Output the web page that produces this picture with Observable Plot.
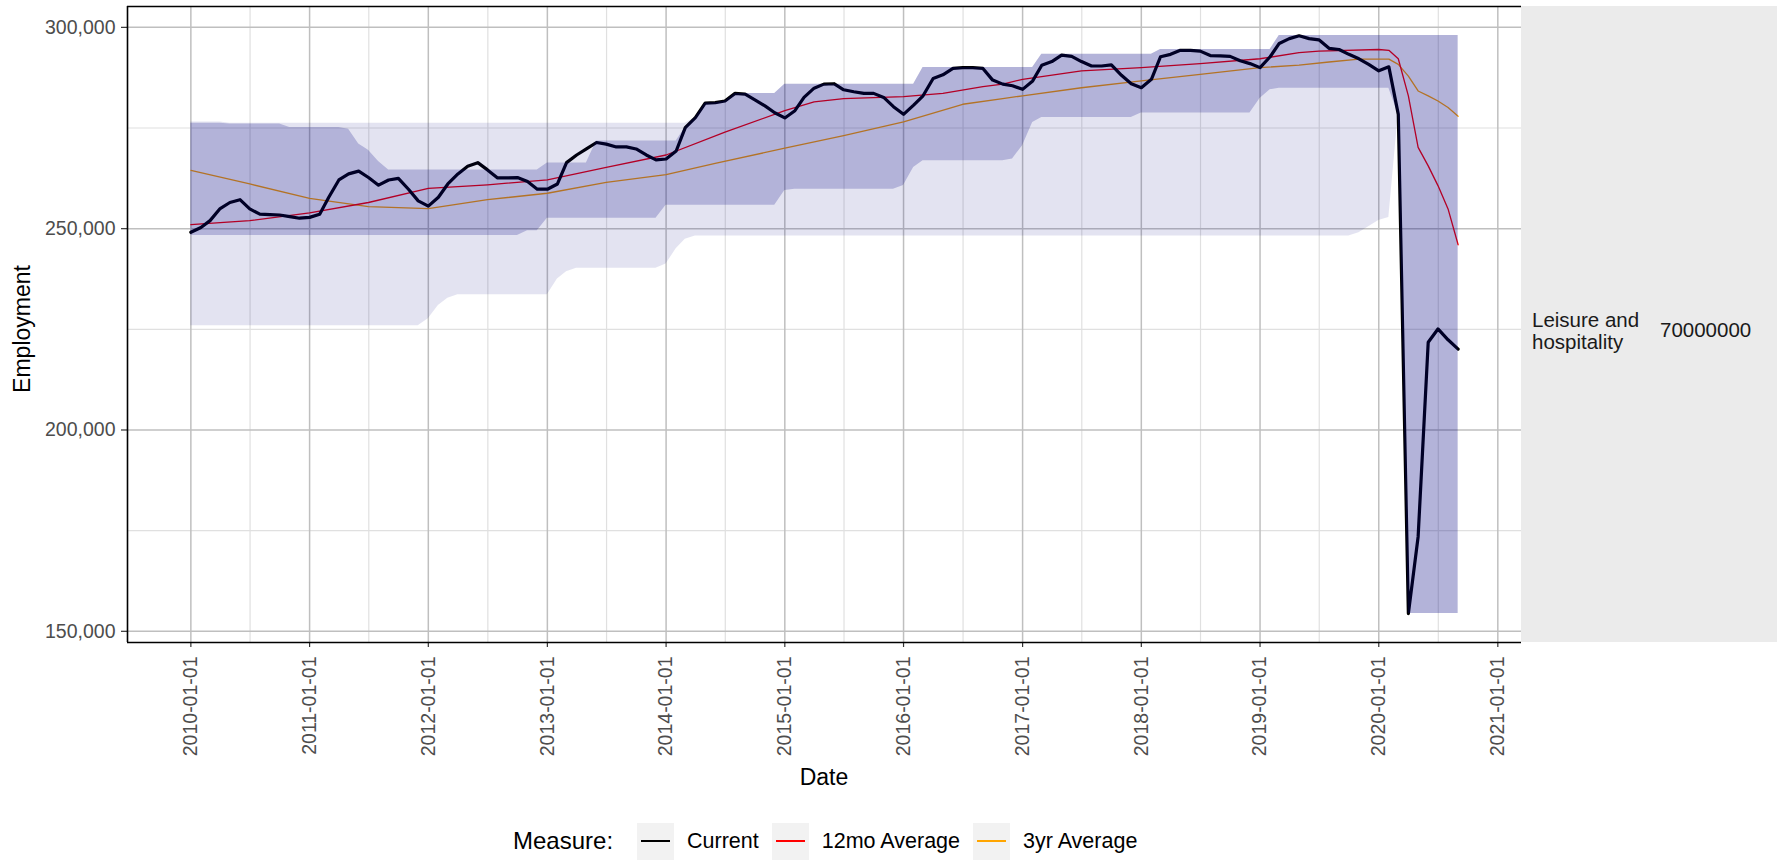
<!DOCTYPE html>
<html><head><meta charset="utf-8">
<script src="https://cdn.jsdelivr.net/npm/d3@7"></script>
<script src="https://cdn.jsdelivr.net/npm/@observablehq/plot@0.6"></script>
<style>
html,body{margin:0;padding:0;background:#fff;}
#wrap{position:relative;width:1777px;height:860px;overflow:hidden;font-family:"Liberation Sans",Arial,sans-serif;}
#legend{position:absolute;left:513px;top:822px;height:38px;display:flex;align-items:center;color:#000;}
#legend .title{font-size:24px;margin-right:24px;}
#legend .key{width:37px;height:37px;background:#f2f2f2;position:relative;margin-right:13px;}
#legend .key i{position:absolute;left:4px;right:4px;top:17.5px;height:2px;display:block;}
#legend .lab{font-size:21.5px;margin-right:13px;}
</style></head>
<body><div id="wrap"><div id="chart"></div><div id="legend"></div></div>
<script>
// ---- data (employment in thousands) ----
const startMonth = "2010-01-01", endMonth = "2020-10-01"; // monthly, 2010-01 .. 2020-09
const current = [
 249.1,250.3,252.0,255.0,256.5,257.2,254.9,253.6,253.5,253.4,253.0,252.6,
 252.8,253.6,257.8,262.1,263.6,264.3,262.7,260.8,262.1,262.5,259.8,256.9,
 255.6,257.8,261.1,263.6,265.5,266.4,264.6,262.6,262.6,262.7,261.7,259.8,
 259.8,261.1,266.4,268.3,269.8,271.4,271.0,270.3,270.3,269.8,268.3,267.1,
 267.3,269.3,275.1,277.6,281.2,281.3,281.7,283.6,283.4,282.0,280.5,278.8,
 277.5,279.3,282.6,284.9,285.9,286.0,284.5,284.0,283.6,283.6,282.6,280.3,
 278.4,280.7,283.0,287.3,288.2,289.8,290.0,290.0,289.8,286.9,285.9,285.5,
 284.6,286.7,290.6,291.5,293.1,292.8,291.5,290.4,290.4,290.7,288.1,286.0,
 285.0,287.1,292.7,293.3,294.3,294.3,294.1,293.0,292.9,292.8,291.7,291.0,
 290.0,292.7,296.0,297.2,297.9,297.2,296.9,294.8,294.5,293.3,292.2,290.8,
 289.2,290.2,278.4,154.4,173.5,221.8,225.1,222.4,220.1
];
// 12-month range band (dark)
const range12Low = [
 248.3,248.3,248.3,248.3,248.3,248.3,248.3,248.3,248.3,248.3,248.3,248.3,
 248.3,248.3,248.3,248.3,248.3,248.3,248.3,248.3,248.3,248.3,248.3,248.3,
 248.3,248.3,248.3,248.3,248.3,248.3,248.3,248.3,248.3,248.3,249.5,249.5,
 252.6,252.6,252.6,252.6,252.6,252.6,252.6,252.6,252.6,252.6,252.6,252.6,
 255.8,255.8,255.8,255.8,255.8,255.8,255.8,255.8,255.8,255.8,255.8,255.8,
 259.5,259.8,259.8,259.8,259.8,259.8,259.8,259.8,259.8,259.8,259.8,259.8,
 260.7,265.2,266.9,266.9,266.9,266.9,266.9,266.9,266.9,266.9,266.9,267.3,
 270.6,276.4,277.6,277.6,277.6,277.6,277.6,277.6,277.6,277.6,277.6,277.6,
 278.7,278.7,278.7,278.7,278.7,278.7,278.7,278.7,278.7,278.7,278.7,278.7,
 282.3,284.5,284.9,284.9,284.9,284.9,284.9,284.9,284.9,284.9,284.9,284.9,
 284.9,284.9,278.4,154.4,154.4,154.4,154.4,154.4,154.4
];
const range12High = [
 276.2,276.2,276.2,276.2,276.0,276.0,276.0,276.0,276.0,276.0,275.1,275.1,
 275.1,275.1,275.1,275.1,274.7,271.0,269.5,266.7,264.6,264.6,264.6,264.6,
 264.6,264.6,264.6,264.6,264.6,264.6,264.6,264.6,264.6,264.6,264.6,264.6,
 266.3,266.3,266.3,266.3,266.3,271.8,271.8,271.8,271.8,271.8,271.8,271.8,
 271.8,271.8,275.1,277.6,281.2,281.3,281.7,283.6,283.6,283.6,283.6,283.6,
 285.9,285.9,285.9,285.9,285.9,285.9,285.9,285.9,285.9,285.9,285.9,285.9,
 285.9,285.9,290.0,290.0,290.0,290.0,290.0,290.0,290.0,290.0,290.0,290.0,
 290.0,290.0,293.3,293.3,293.3,293.3,293.3,293.3,293.3,293.3,293.3,293.3,
 293.3,293.3,294.5,294.5,294.5,294.5,294.5,294.5,294.5,294.5,294.5,294.5,
 294.5,294.5,298.0,298.0,298.0,298.0,298.0,298.0,298.0,298.0,298.0,298.0,
 298.0,298.0,298.0,298.0,298.0,298.0,298.0,298.0,298.0
];
// 3-year range band (light)
const range36Low = [
 225.9,225.9,225.9,225.9,225.9,225.9,225.9,225.9,225.9,225.9,225.9,225.9,
 225.9,225.9,225.9,225.9,225.9,225.9,225.9,225.9,225.9,225.9,225.9,225.9,
 227.6,230.9,232.7,233.6,233.6,233.6,233.6,233.6,233.6,233.6,233.6,233.6,
 233.6,237.5,239.3,240.2,240.2,240.2,240.2,240.2,240.2,240.2,240.2,240.2,
 241.2,245.0,247.4,248.2,248.2,248.2,248.2,248.2,248.2,248.2,248.2,248.2,
 248.2,248.2,248.2,248.2,248.2,248.2,248.2,248.2,248.2,248.2,248.2,248.2,
 248.2,248.2,248.2,248.2,248.2,248.2,248.2,248.2,248.2,248.2,248.2,248.2,
 248.2,248.2,248.2,248.2,248.2,248.2,248.2,248.2,248.2,248.2,248.2,248.2,
 248.2,248.2,248.2,248.2,248.2,248.2,248.2,248.2,248.2,248.2,248.2,248.2,
 248.2,248.2,248.2,248.2,248.2,248.2,248.2,248.2,248.2,248.2,249.0,250.5,
 252.0,252.8,278.4,154.4,154.4,154.4,154.4,154.4,154.4
];
const range36High = [
 276.5,276.5,276.5,276.5,276.2,276.2,276.2,276.2,276.2,276.2,276.2,276.2,
 276.2,276.2,276.2,276.2,276.2,276.2,276.2,276.2,276.2,276.2,276.2,276.2,
 276.2,276.2,276.2,276.2,276.2,276.2,276.2,276.2,276.2,276.2,276.2,276.2,
 276.2,276.2,276.2,276.2,276.2,276.2,276.2,276.2,276.2,276.2,276.2,276.2,
 276.2,276.2,276.2,277.6,281.2,281.3,281.7,283.6,283.6,283.6,283.6,283.6,
 285.9,285.9,285.9,285.9,285.9,285.9,285.9,285.9,285.9,285.9,285.9,285.9,
 285.9,285.9,290.0,290.0,290.0,290.0,290.0,290.0,290.0,290.0,290.0,290.0,
 290.0,290.0,293.3,293.3,293.3,293.3,293.3,293.3,293.3,293.3,293.3,293.3,
 293.3,293.3,294.5,294.5,294.5,294.5,294.5,294.5,294.5,294.5,294.5,294.5,
 294.5,294.5,298.0,298.0,298.0,298.0,298.0,298.0,298.0,298.0,298.0,298.0,
 298.0,298.0,298.0,298.0,298.0,298.0,298.0,298.0,298.0
];
// 12-month average (read at sample dates)
const avg12Dates = ["2010-01-01","2010-07-01","2011-01-01","2011-07-01","2012-01-01","2012-07-01","2013-01-01","2013-07-01","2014-01-01","2014-07-01","2015-01-01","2015-04-01","2015-07-01","2016-01-01","2016-05-01","2016-09-01","2016-11-01","2017-01-01","2017-07-01","2018-01-01","2018-07-01","2019-01-01","2019-05-01","2019-07-01","2020-01-01","2020-02-01","2020-03-01","2020-04-01","2020-05-01","2020-06-01","2020-07-01","2020-08-01","2020-09-01"];
const avg12Values = [251.0,252.0,253.9,256.5,260.0,260.9,262.1,265.2,268.3,274.0,279.3,281.5,282.3,282.8,283.6,285.3,285.9,287.1,289.2,290.0,291.0,292.2,293.7,294.1,294.5,294.3,292.2,283.0,270.2,265.6,260.7,254.9,246.0];
// 3-year average (read at sample dates)
const avg36Dates = ["2010-01-01","2010-07-01","2011-01-01","2011-07-01","2012-01-01","2012-07-01","2013-01-01","2013-07-01","2014-01-01","2014-06-01","2015-01-01","2015-07-01","2016-01-01","2016-07-01","2016-11-01","2017-01-01","2017-07-01","2018-01-01","2018-07-01","2019-01-01","2019-05-01","2019-08-01","2019-11-01","2020-02-01","2020-03-01","2020-04-01","2020-05-01","2020-06-01","2020-07-01","2020-08-01","2020-09-01"];
const avg36Values = [264.5,261.1,257.5,255.5,255.0,257.2,258.8,261.5,263.4,266.2,270.0,273.1,276.5,280.9,282.3,283.0,285.0,286.7,288.3,290.0,290.6,291.4,292.1,292.1,290.8,287.9,284.2,283.0,281.7,280.1,277.9];

const yTicks = [150, 200, 250, 300];
const yMinor = [175, 225, 275];
const xTickYears = ["2010-01-01","2011-01-01","2012-01-01","2013-01-01","2014-01-01","2015-01-01","2016-01-01","2017-01-01","2018-01-01","2019-01-01","2020-01-01","2021-01-01"];
const xMinor = ["2010-07-02","2011-07-02","2012-07-02","2013-07-02","2014-07-02","2015-07-02","2016-07-02","2017-07-02","2018-07-02","2019-07-02","2020-07-02"];
const measures = ["Current", "12mo Average", "3yr Average"];
const measureColors = ["#000000", "#ff0000", "#ffa500"];
const stripLabels = [["Leisure and", "hospitality"], ["70000000"]];

// ---- build tables ----
const parse = s => new Date(s + "T00:00:00Z");
const months = d3.utcMonth.range(parse(startMonth), parse(endMonth));
const rows = months.map((d, i) => ({date: d, cur: current[i], dlo: range12Low[i], dhi: range12High[i], llo: range36Low[i], lhi: range36High[i]}));
const avg12 = avg12Dates.map((d, i) => ({date: parse(d), v: avg12Values[i]}));
const avg36 = avg36Dates.map((d, i) => ({date: parse(d), v: avg36Values[i]}));
const xTicks = xTickYears.map(parse);
const xMin = xMinor.map(parse);

// ggplot-like 5% expansion
const d0 = months[0], d1 = months[months.length - 1];
const span = d1 - d0;
const xDomain = [new Date(+d0 - 0.05 * span), new Date(+d1 + 0.05 * span)];
const yLo = d3.min(current), yHi = d3.max(range12High);
const yDomain = [yLo - 0.05 * (yHi - yLo), yHi + 0.05 * (yHi - yLo)];

const W = 1777, H = 818, ML = 127, MR = 256, MT = 6, MB = 176;
const chart = Plot.plot({
  width: W, height: H,
  marginLeft: ML, marginRight: MR, marginTop: MT, marginBottom: MB,
  style: {fontFamily: "Liberation Sans, Arial, sans-serif", fontSize: "19.5px", color: "#4d4d4d", background: "white", overflow: "visible"},
  x: {type: "utc", domain: xDomain},
  y: {domain: yDomain},
  marks: [
    Plot.ruleX(xMin, {stroke: "#e0e0e0", strokeWidth: 1.2}),
    Plot.ruleY(yMinor, {stroke: "#e0e0e0", strokeWidth: 1.2}),
    Plot.ruleX(xTicks, {stroke: "#bfbfbf", strokeWidth: 1.5}),
    Plot.ruleY(yTicks, {stroke: "#bfbfbf", strokeWidth: 1.5}),
    Plot.line(avg36, {x: "date", y: "v", stroke: measureColors[2], strokeWidth: 1.3}),
    Plot.line(avg12, {x: "date", y: "v", stroke: measureColors[1], strokeWidth: 1.3}),
    Plot.line(rows, {x: "date", y: "cur", stroke: measureColors[0], strokeWidth: 3.2, strokeLinejoin: "round"}),
    Plot.areaY(rows, {x: "date", y1: "llo", y2: "lhi", fill: "#000080", fillOpacity: 0.11}),
    Plot.areaY(rows, {x: "date", y1: "dlo", y2: "dhi", fill: "#000080", fillOpacity: 0.21}),
    Plot.axisX({ticks: xTicks, tickFormat: d3.utcFormat("%Y-%m-%d"), tickRotate: -90, tickSize: 5, tickPadding: 9, label: null, stroke: "#333", strokeWidth: 1.2}),
    Plot.axisY({ticks: yTicks, tickFormat: d => d3.format(",")(d * 1000), tickSize: 6, tickPadding: 6, label: null, stroke: "#333", strokeWidth: 1.2}),
    Plot.ruleX([xDomain[0]], {stroke: "#000", strokeWidth: 1.6}),
    Plot.ruleY([yDomain[0]], {stroke: "#000", strokeWidth: 1.6}),
    Plot.ruleY([yDomain[1]], {stroke: "#000", strokeWidth: 1.6})
  ]
});
document.getElementById("chart").appendChild(chart);

// ---- strip, axis titles ----
const svg = d3.select(chart);
const panelRight = W - MR, panelBottom = H - MB;
const strip = svg.append("g").attr("text-anchor", "start");
strip.append("rect").attr("x", panelRight).attr("y", MT).attr("width", MR).attr("height", panelBottom - MT).attr("fill", "#ebebeb");
const midY = (MT + panelBottom) / 2;
const st = strip.append("text").attr("font-size", 20.5).attr("fill", "#1a1a1a").attr("text-anchor", "start").attr("font-family", "Liberation Sans, Arial, sans-serif");
st.append("tspan").attr("x", panelRight + 11).attr("y", midY + 3).text(stripLabels[0][0]);
st.append("tspan").attr("x", panelRight + 11).attr("y", midY + 24.5).text(stripLabels[0][1]);
strip.append("text").attr("font-size", 20.5).attr("fill", "#1a1a1a").attr("text-anchor", "start").attr("font-family", "Liberation Sans, Arial, sans-serif")
  .attr("x", panelRight + 139).attr("y", midY + 13).text(stripLabels[1][0]);
svg.append("text").attr("font-size", 23).attr("fill", "#000").attr("text-anchor", "middle")
  .attr("transform", `translate(30,${midY + 5}) rotate(-90)`).text("Employment");
svg.append("text").attr("font-size", 23).attr("fill", "#000").attr("text-anchor", "middle")
  .attr("x", (ML + panelRight) / 2).attr("y", 785).text("Date");

// ---- legend ----
const leg = document.getElementById("legend");
leg.innerHTML = `<span class="title">Measure:</span>` + measures.map((m, i) =>
  `<span class="key"><i style="background:${measureColors[i]}"></i></span><span class="lab">${m}</span>`).join("");
</script></body></html>
